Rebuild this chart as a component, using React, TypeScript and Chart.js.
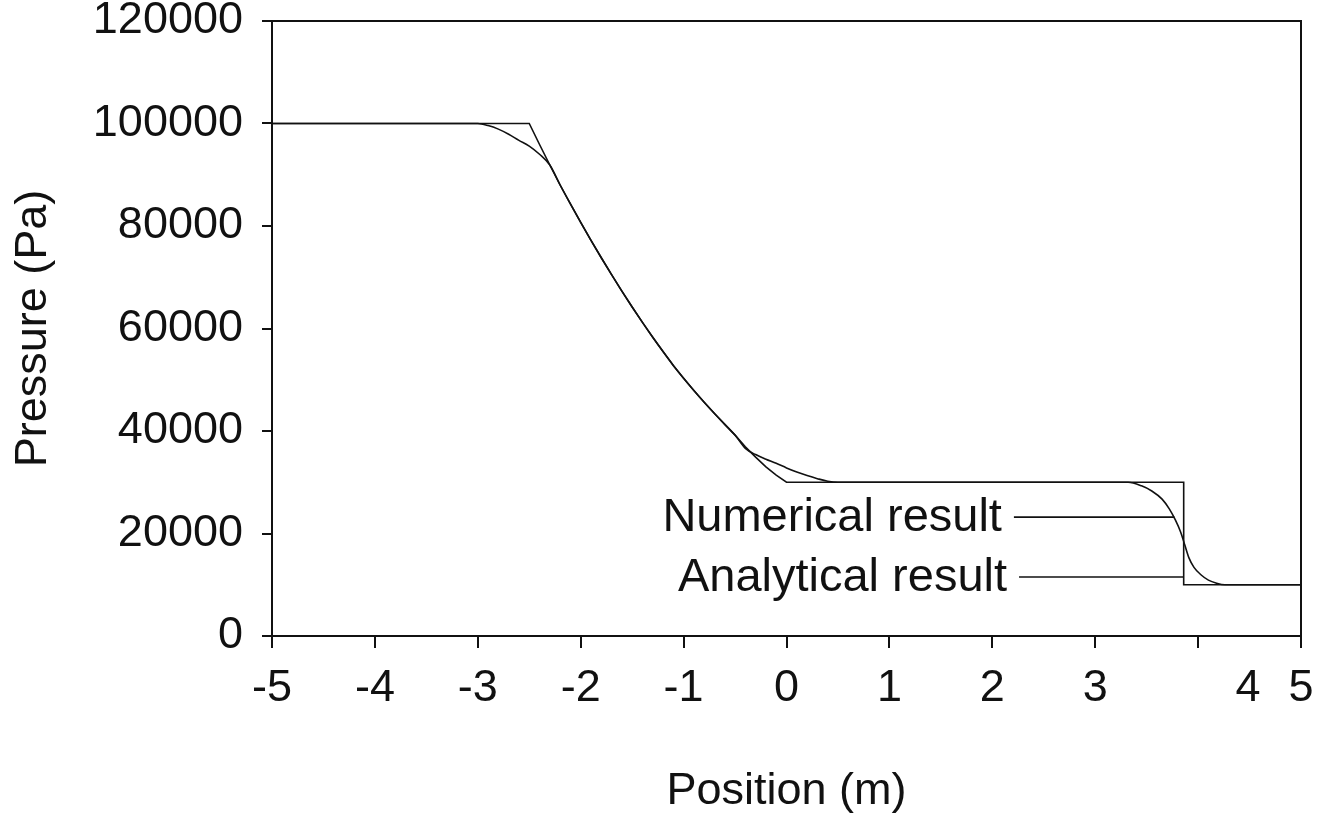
import React, { useEffect, useRef } from "react";
import { Chart, registerables } from "chart.js";

Chart.register(...registerables);

// Numerical result (position in m, pressure in Pa)
const numericalX = [
  -5, -3.0, -2.9, -2.8, -2.7, -2.6, -2.5, -2.4, -2.3, -2.2, -2.1, -2.0, -1.9, -1.8, -1.7,
  -1.6, -1.5, -1.4, -1.3, -1.2, -1.1, -1.0, -0.9, -0.8, -0.7, -0.6, -0.5, -0.4, -0.3,
  -0.2, -0.1, 0, 0.1, 0.2, 0.3, 0.4, 0.5, 3.32, 3.45, 3.55, 3.65, 3.72, 3.78, 3.83, 3.87,
  3.91, 3.96, 4.03, 4.1, 4.18, 4.26, 5,
];
const numericalP = [
  100000, 100000, 99600, 98900, 97900, 96700, 95600, 94000, 91900, 88000, 84300, 80700,
  77200, 73800, 70500, 67300, 64200, 61200, 58300, 55500, 52800, 50300, 47900, 45600,
  43400, 41300, 39200, 36600, 35400, 34500, 33700, 32800, 32000, 31300, 30700, 30200,
  30000, 30000, 29300, 28300, 26700, 24800, 22600, 20300, 17800, 15300, 13400, 11900,
  10900, 10300, 10000, 10000,
];

// Analytical result
const analyticalX = [
  -5, -2.5, -2.4, -2.3, -2.2, -2.1, -2.0, -1.9, -1.8, -1.7, -1.6, -1.5, -1.4, -1.3, -1.2,
  -1.1, -1.0, -0.9, -0.8, -0.7, -0.6, -0.5, -0.4, -0.3, -0.2, -0.1, 0, 3.86, 3.86, 5,
];
const analyticalP = [
  100000, 100000, 95900, 91900, 88000, 84300, 80700, 77200, 73800, 70500, 67300, 64200,
  61200, 58300, 55500, 52800, 50300, 47900, 45600, 43400, 41300, 39200, 36900, 34900,
  33000, 31400, 30000, 30000, 10000, 10000,
];

const xTickLabels = ["-5", "-4", "-3", "-2", "-1", "0", "1", "2", "3", "4", "5"];
const yTickValues = [0, 20000, 40000, 60000, 80000, 100000, 120000];

// Leader-line labels (data coordinates)
const labelTexts = ["Numerical result", "Analytical result"];
const labelPressure = [23200, 11500];
const labelLineStart = [2.21, 2.26];
const labelLineEnd = [3.77, 3.86];

const FONT = "Arial, 'Liberation Sans', sans-serif";
const FONT_SIZE = 45;
const LABEL_FONT_SIZE = 47;
const INK = "#111";

const toPoints = (xs: number[], ys: number[]) => xs.map((x, i) => ({ x, y: ys[i] }));

const framePlugin = {
  id: "frameAndLabels",
  afterDraw(chart: any) {
    const { ctx, chartArea, scales } = chart;
    ctx.save();
    ctx.strokeStyle = INK;
    ctx.lineWidth = 2;
    ctx.beginPath();
    ctx.moveTo(chartArea.left, chartArea.top);
    ctx.lineTo(chartArea.right, chartArea.top);
    ctx.lineTo(chartArea.right, chartArea.bottom);
    ctx.stroke();

    ctx.lineWidth = 1.6;
    ctx.font = `${LABEL_FONT_SIZE}px ${FONT}`;
    ctx.fillStyle = INK;
    ctx.textAlign = "right";
    ctx.textBaseline = "middle";
    labelTexts.forEach((t, i) => {
      const y = scales.y.getPixelForValue(labelPressure[i]);
      const x0 = scales.x.getPixelForValue(labelLineStart[i]);
      const x1 = scales.x.getPixelForValue(labelLineEnd[i]);
      ctx.beginPath();
      ctx.moveTo(x0, y);
      ctx.lineTo(x1, y);
      ctx.stroke();
      ctx.fillText(t, x0 - 12, y + 1);
    });
    ctx.restore();
  },
};

export default function App() {
  const ref = useRef<HTMLCanvasElement>(null);

  useEffect(() => {
    if (!ref.current) return;
    Chart.defaults.font.family = FONT;
    Chart.defaults.color = INK;
    const chart = new Chart(ref.current, {
      type: "scatter",
      data: {
        datasets: [
          {
            label: "Numerical result",
            data: toPoints(numericalX, numericalP),
            showLine: true,
            borderColor: INK,
            borderWidth: 1.6,
            pointRadius: 0,
            cubicInterpolationMode: "monotone",
          },
          {
            label: "Analytical result",
            data: toPoints(analyticalX, analyticalP),
            showLine: true,
            borderColor: INK,
            borderWidth: 1.6,
            pointRadius: 0,
            tension: 0,
          },
        ],
      },
      options: {
        animation: false,
        responsive: false,
        maintainAspectRatio: false,
        layout: { padding: { left: 0, top: 21, right: 19, bottom: 0 } },
        plugins: { legend: { display: false }, tooltip: { enabled: false } },
        scales: {
          x: {
            type: "linear",
            min: -5,
            max: 5,
            afterBuildTicks: (scale: any) => {
              scale.ticks = xTickLabels.map((l) => ({ value: Number(l) }));
            },
            ticks: {
              font: { size: FONT_SIZE },
              color: INK,
              padding: 14,
              maxRotation: 0,
              autoSkip: false,
              callback: (v: any) => {
                const s = String(v);
                return s === "4" ? "        4" : s;
              },
            },
            grid: {
              display: true,
              drawOnChartArea: false,
              drawTicks: true,
              tickLength: 12,
              color: INK,
              tickColor: INK,
              tickWidth: 2,
              lineWidth: 2,
            },
            border: { display: true, color: INK, width: 2 },
            title: {
              display: true,
              text: "Position (m)",
              font: { size: FONT_SIZE },
              color: INK,
              padding: { top: 0, bottom: 2 },
            },
            afterFit: (scale: any) => {
              scale.height = 185;
              scale.paddingLeft = 0;
              scale.paddingRight = 0;
            },
          },
          y: {
            type: "linear",
            min: 0,
            max: 120000,
            afterBuildTicks: (scale: any) => {
              scale.ticks = yTickValues.map((v) => ({ value: v }));
            },
            ticks: {
              font: { size: FONT_SIZE },
              color: INK,
              padding: 19,
              autoSkip: false,
              callback: (v: any) => String(v),
            },
            grid: {
              display: true,
              drawOnChartArea: false,
              drawTicks: true,
              tickLength: 10,
              color: INK,
              tickColor: INK,
              tickWidth: 2,
              lineWidth: 2,
            },
            border: { display: true, color: INK, width: 2 },
            title: {
              display: true,
              text: "Pressure (Pa)",
              font: { size: FONT_SIZE },
              color: INK,
              padding: { top: 7, bottom: 0 },
            },
            afterFit: (scale: any) => {
              scale.width = 272;
              scale.paddingTop = 0;
              scale.paddingBottom = 0;
            },
          },
        },
      },
      plugins: [framePlugin],
    } as any);
    return () => chart.destroy();
  }, []);

  return (
    <div style={{ position: "absolute", left: 0, top: 0, width: 1320, height: 821, background: "#fff" }}>
      <canvas ref={ref} width={1320} height={821} style={{ display: "block", width: 1320, height: 821 }} />
    </div>
  );
}
